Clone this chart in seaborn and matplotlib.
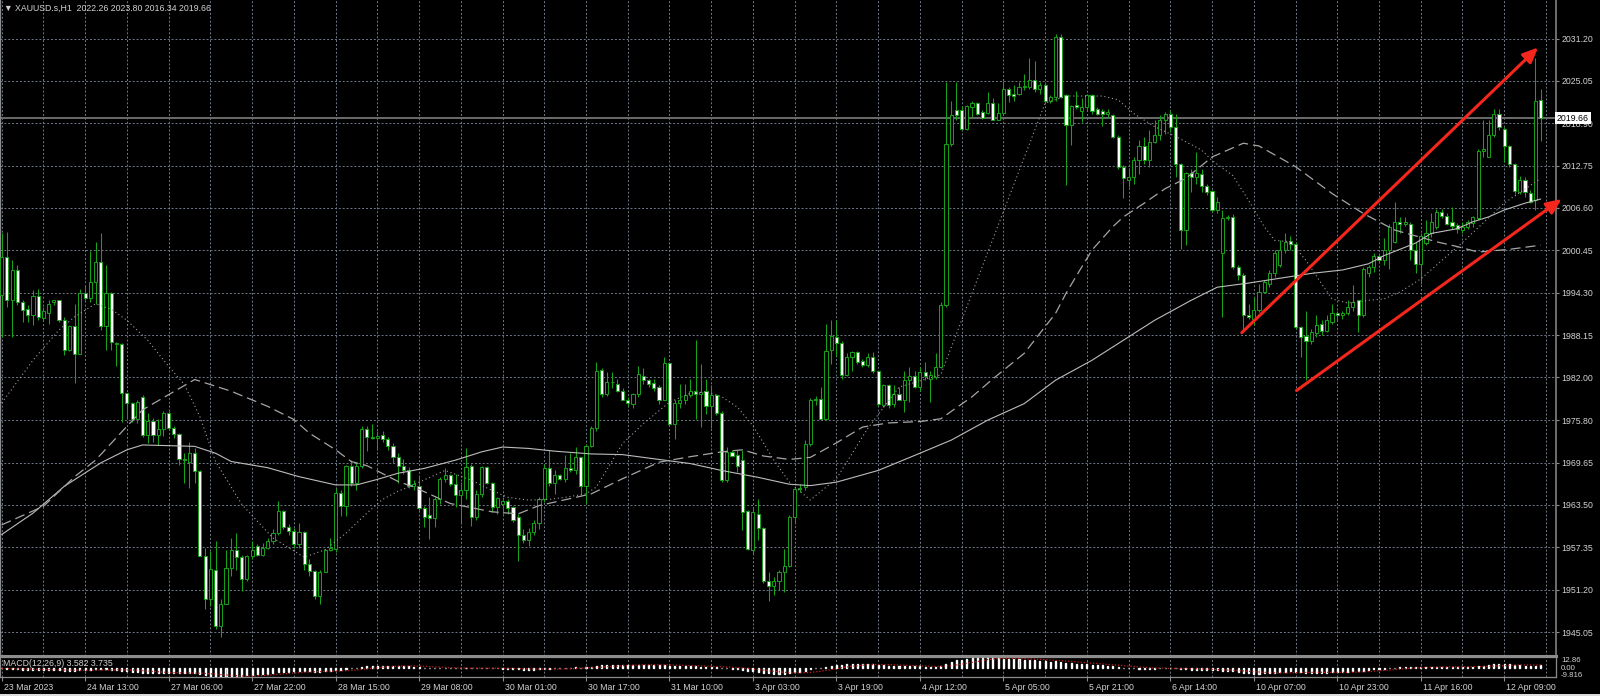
import numpy as np
import pandas as pd
import matplotlib
matplotlib.use("Agg")
import matplotlib.pyplot as plt
import matplotlib.transforms as mtransforms
from matplotlib.patches import Rectangle
import seaborn as sns

# XAUUSD H1 candles (bar index 0..295)
opens = [
    1994.0, 1999.5, 1993.2, 1997.6, 1993.0, 1991.9, 1991.0, 1993.8, 1990.7, 1991.4,
    1992.9, 1993.2, 1990.4, 1986.0, 1989.5, 1985.4, 1994.2, 1993.6, 1995.8, 1998.7,
    1989.5, 1994.3, 1986.9, 1986.9, 1979.7, 1978.3, 1975.9, 1979.1, 1973.7, 1975.7,
    1973.7, 1974.5, 1976.9, 1974.6, 1973.8, 1970.1, 1969.8, 1971.0, 1968.4, 1956.1,
    1949.8, 1954.0, 1945.9, 1949.1, 1954.4, 1957.0, 1956.0, 1952.7, 1956.1, 1957.5,
    1956.3, 1957.3, 1958.2, 1959.4, 1962.6, 1960.3, 1959.7, 1957.8, 1959.5, 1954.9,
    1953.9, 1950.3, 1953.8, 1957.0, 1957.1, 1965.3, 1963.4, 1969.1, 1966.7, 1969.1,
    1974.5, 1973.4, 1973.2, 1973.7, 1973.0, 1972.0, 1970.5, 1969.1, 1968.5, 1966.3,
    1966.2, 1963.0, 1962.0, 1961.6, 1964.3, 1967.3, 1967.8, 1966.6, 1964.9, 1965.7,
    1969.1, 1961.7, 1965.1, 1969.0, 1966.7, 1963.2, 1963.6, 1964.1, 1963.2, 1961.7,
    1959.1, 1958.4, 1959.5, 1960.9, 1964.4, 1968.8, 1966.7, 1967.9, 1967.3, 1968.8,
    1968.6, 1970.4, 1966.3, 1972.1, 1974.6, 1983.1, 1979.6, 1981.3, 1981.1, 1980.1,
    1978.8, 1978.2, 1979.6, 1982.2, 1981.6, 1981.2, 1980.6, 1978.8, 1984.1, 1975.2,
    1978.3, 1978.7, 1979.4, 1980.1, 1979.6, 1980.0, 1977.8, 1979.4, 1976.9, 1967.1,
    1971.2, 1970.8, 1970.0, 1962.6, 1957.0, 1962.2, 1960.2, 1952.5, 1951.7, 1952.5,
    1953.8, 1954.7, 1961.7, 1965.8, 1966.1, 1972.4, 1978.7, 1978.9, 1976.0, 1986.0,
    1987.9, 1987.0, 1982.3, 1985.0, 1985.7, 1984.4, 1983.8, 1985.0, 1983.0, 1978.0,
    1980.9, 1978.2, 1979.6, 1978.8, 1981.7, 1982.2, 1980.6, 1982.8, 1981.8, 1982.1,
    1983.5, 1992.5, 2015.9, 2020.8, 2020.8, 2018.1, 2021.2, 2021.9, 2020.6, 2020.4,
    2021.8, 2019.4, 2020.4, 2023.9, 2023.1, 2023.1, 2024.2, 2024.2, 2025.2, 2023.9,
    2024.4, 2022.2, 2022.7, 2031.4, 2023.0, 2018.6, 2021.5, 2020.7, 2021.2, 2023.0,
    2021.0, 2020.7, 2020.3, 2020.1, 2016.9, 2012.6, 2010.7, 2011.1, 2013.5, 2015.6,
    2013.5, 2016.2, 2017.2, 2019.4, 2020.2, 2018.4, 2013.0, 2003.4, 2011.7, 2011.1,
    2011.5, 2009.8, 2009.1, 2006.3, 2000.0, 2005.1, 2005.3, 1998.0, 1996.8, 1991.0,
    1990.5, 1991.8, 1994.4, 1995.6, 1997.1, 1998.3, 2000.5, 2001.8, 2001.4, 1989.3,
    1988.0, 1987.3, 1988.4, 1989.7, 1988.8, 1990.0, 1991.4, 1991.0, 1991.3, 1992.2,
    1993.2, 1991.0, 1997.1, 1998.0, 1999.6, 1999.1, 2000.5, 2001.6, 2004.6, 2004.3,
    2004.3, 2000.5, 1998.5, 2001.5, 2002.9, 2003.9, 2006.0, 2005.5, 2004.6, 2004.1,
    2003.4, 2003.9, 2004.4, 2005.1, 2014.9, 2014.0, 2017.2, 2020.3, 2018.1, 2015.6,
    2013.0, 2008.9, 2010.7, 2008.8, 2007.7, 2022.26,
]
highs = [
    2003.0, 2003.1, 1999.0, 1998.3, 1993.2, 1992.5, 1994.7, 1994.9, 1992.2, 1993.2,
    1993.3, 1993.3, 1990.8, 1989.6, 1992.7, 1994.9, 1995.4, 2000.4, 2001.7, 2002.9,
    1998.3, 1994.4, 1987.2, 1987.0, 1979.7, 1978.5, 1978.7, 1979.5, 1976.8, 1976.1,
    1975.9, 1977.1, 1977.1, 1974.9, 1973.9, 1971.0, 1972.7, 1971.7, 1968.6, 1957.3,
    1956.8, 1958.2, 1949.8, 1957.0, 1958.7, 1959.4, 1956.3, 1956.3, 1958.2, 1957.8,
    1958.0, 1958.7, 1960.0, 1964.0, 1962.8, 1960.7, 1960.2, 1960.9, 1959.7, 1955.6,
    1954.1, 1954.1, 1957.1, 1958.7, 1966.0, 1965.6, 1969.3, 1970.0, 1969.8, 1975.0,
    1974.9, 1975.3, 1974.2, 1974.2, 1973.4, 1972.5, 1971.0, 1970.2, 1969.0, 1967.1,
    1967.5, 1963.4, 1964.6, 1964.6, 1967.5, 1968.8, 1968.0, 1968.0, 1966.8, 1971.7,
    1969.5, 1965.6, 1969.2, 1969.1, 1966.8, 1964.7, 1964.6, 1964.4, 1963.4, 1962.2,
    1960.0, 1960.1, 1961.3, 1964.7, 1969.5, 1971.4, 1968.5, 1968.0, 1970.8, 1971.0,
    1971.9, 1970.4, 1972.3, 1975.0, 1984.2, 1983.3, 1982.8, 1982.8, 1981.8, 1980.4,
    1979.2, 1979.7, 1983.6, 1983.3, 1981.8, 1981.8, 1980.9, 1985.0, 1984.2, 1978.7,
    1981.1, 1981.1, 1981.8, 1987.5, 1984.0, 1981.8, 1980.9, 1979.6, 1977.2, 1971.9,
    1971.4, 1971.4, 1971.4, 1962.8, 1963.2, 1964.4, 1960.3, 1953.8, 1953.0, 1954.0,
    1957.1, 1962.0, 1966.1, 1966.5, 1972.9, 1979.0, 1979.3, 1980.6, 1989.8, 1990.3,
    1990.4, 1987.3, 1985.5, 1985.9, 1985.9, 1984.7, 1985.5, 1985.7, 1983.0, 1981.1,
    1981.1, 1980.9, 1980.6, 1983.0, 1983.5, 1983.0, 1983.5, 1984.2, 1983.0, 1985.5,
    1993.0, 2024.9, 2022.2, 2024.9, 2021.4, 2021.5, 2022.2, 2022.0, 2020.8, 2023.5,
    2022.5, 2021.8, 2025.1, 2024.2, 2024.4, 2024.9, 2026.1, 2028.3, 2028.0, 2024.9,
    2024.9, 2023.0, 2031.9, 2031.8, 2023.2, 2021.5, 2023.6, 2022.5, 2023.2, 2023.1,
    2021.2, 2021.0, 2021.0, 2020.2, 2017.2, 2012.8, 2012.3, 2014.0, 2016.4, 2016.9,
    2017.9, 2019.3, 2020.1, 2020.5, 2020.8, 2020.3, 2013.1, 2011.8, 2012.2, 2014.7,
    2012.3, 2010.1, 2009.2, 2008.2, 2006.3, 2005.6, 2005.7, 1998.3, 1997.1, 1992.7,
    1993.7, 1995.6, 1996.1, 1997.6, 2000.5, 2001.9, 2002.9, 2002.6, 2001.7, 1989.4,
    1991.7, 1989.1, 1991.0, 1990.3, 1991.0, 1992.7, 1991.7, 1991.7, 1993.2, 1995.4,
    1993.3, 1998.0, 1998.3, 2000.0, 2000.0, 2002.2, 2004.3, 2007.5, 2005.3, 2005.3,
    2004.6, 2001.7, 2002.9, 2004.8, 2005.9, 2006.4, 2006.5, 2005.8, 2006.8, 2004.4,
    2004.6, 2004.8, 2005.5, 2015.2, 2019.4, 2019.3, 2021.0, 2020.9, 2018.4, 2015.7,
    2013.1, 2011.2, 2011.1, 2009.2, 2028.3, 2023.80,
]
lows = [
    1987.9, 1992.2, 1987.9, 1992.5, 1990.1, 1990.1, 1989.6, 1990.3, 1990.3, 1989.8,
    1992.5, 1990.1, 1985.3, 1985.9, 1981.2, 1985.4, 1993.2, 1992.9, 1992.7, 1988.9,
    1986.0, 1986.0, 1983.6, 1975.6, 1975.9, 1975.6, 1975.4, 1973.4, 1972.5, 1972.7,
    1972.2, 1973.5, 1974.4, 1973.2, 1969.3, 1966.7, 1966.0, 1966.7, 1956.1, 1948.4,
    1948.8, 1945.5, 1944.3, 1949.1, 1953.2, 1954.1, 1951.0, 1952.5, 1955.6, 1956.1,
    1956.1, 1957.1, 1957.8, 1959.2, 1960.0, 1959.2, 1957.3, 1957.3, 1954.1, 1953.2,
    1949.8, 1949.1, 1953.7, 1956.8, 1956.6, 1961.9, 1961.9, 1966.2, 1965.7, 1968.9,
    1971.3, 1973.0, 1971.5, 1972.7, 1971.5, 1969.6, 1966.7, 1968.0, 1965.9, 1965.6,
    1962.7, 1960.3, 1958.6, 1960.3, 1963.7, 1966.8, 1966.3, 1963.2, 1960.8, 1964.4,
    1960.5, 1961.3, 1964.6, 1966.6, 1962.5, 1962.2, 1962.2, 1962.2, 1961.0, 1955.4,
    1957.9, 1957.6, 1959.1, 1960.0, 1963.9, 1966.3, 1965.1, 1967.1, 1966.8, 1968.3,
    1968.0, 1965.1, 1963.7, 1971.9, 1974.3, 1979.2, 1979.3, 1980.4, 1979.9, 1978.7,
    1977.8, 1977.5, 1979.2, 1981.1, 1980.6, 1980.1, 1978.2, 1978.7, 1975.1, 1973.1,
    1977.5, 1978.2, 1979.2, 1976.0, 1974.8, 1976.7, 1974.6, 1976.5, 1966.8, 1966.8,
    1970.5, 1968.3, 1959.8, 1956.9, 1956.4, 1958.4, 1952.1, 1949.6, 1950.4, 1951.1,
    1950.9, 1954.5, 1961.0, 1965.4, 1965.7, 1972.0, 1978.0, 1975.9, 1975.8, 1984.0,
    1985.0, 1981.8, 1982.2, 1983.0, 1984.0, 1983.5, 1983.5, 1982.6, 1977.8, 1977.7,
    1977.5, 1977.7, 1978.7, 1977.0, 1978.5, 1980.4, 1980.1, 1981.6, 1978.5, 1981.8,
    1983.3, 1992.2, 2015.6, 2019.3, 2017.9, 2017.9, 2019.8, 2020.1, 2019.5, 2020.2,
    2019.3, 2019.3, 2020.1, 2022.0, 2022.2, 2023.0, 2023.7, 2023.9, 2023.5, 2023.2,
    2021.8, 2021.8, 2022.2, 2022.5, 2009.9, 2015.7, 2021.0, 2019.1, 2020.7, 2020.3,
    2020.1, 2018.5, 2019.6, 2016.7, 2012.3, 2008.0, 2009.7, 2010.1, 2011.6, 2013.0,
    2012.6, 2016.0, 2016.5, 2017.4, 2017.6, 2011.1, 2000.7, 2001.2, 2008.9, 2010.1,
    2008.9, 2008.5, 2006.0, 2005.8, 1990.8, 2004.8, 1997.8, 1996.1, 1988.8, 1990.5,
    1989.6, 1991.5, 1994.2, 1995.1, 1996.6, 1998.1, 2000.0, 2000.5, 1989.1, 1985.0,
    1981.6, 1986.9, 1987.9, 1988.1, 1988.6, 1989.8, 1990.4, 1990.5, 1991.0, 1991.7,
    1988.6, 1990.8, 1996.6, 1997.3, 1998.8, 1998.3, 1997.8, 2001.5, 2002.9, 2004.0,
    1999.0, 1997.1, 1995.6, 2001.2, 2002.4, 2003.6, 2005.2, 2004.1, 2003.6, 2002.9,
    2002.9, 2003.6, 2003.9, 2004.8, 2014.0, 2014.0, 2016.9, 2017.9, 2013.3, 2012.6,
    2008.7, 2008.7, 2008.2, 2007.3, 2006.3, 2016.34,
]
closes = [
    1999.5, 1993.2, 1997.6, 1993.0, 1991.8, 1991.1, 1993.8, 1990.8, 1991.7, 1992.7,
    1993.2, 1990.4, 1986.0, 1989.5, 1985.4, 1994.3, 1993.6, 1995.8, 1998.7, 1989.4,
    1994.3, 1987.2, 1987.0, 1979.7, 1978.3, 1975.9, 1978.5, 1973.7, 1975.7, 1973.7,
    1974.5, 1976.9, 1974.6, 1973.8, 1970.1, 1970.0, 1971.0, 1968.4, 1956.1, 1949.8,
    1954.2, 1945.9, 1949.1, 1954.4, 1957.0, 1956.0, 1952.7, 1956.1, 1957.0, 1956.3,
    1957.3, 1958.2, 1959.4, 1962.6, 1960.3, 1959.7, 1957.8, 1959.5, 1954.9, 1953.9,
    1950.3, 1953.8, 1957.0, 1957.3, 1965.3, 1963.4, 1969.1, 1966.7, 1969.1, 1974.5,
    1973.4, 1973.2, 1973.5, 1973.0, 1972.0, 1970.5, 1969.1, 1968.5, 1966.3, 1966.6,
    1963.0, 1961.8, 1961.6, 1964.3, 1967.3, 1967.8, 1966.6, 1964.9, 1965.7, 1969.0,
    1961.7, 1965.1, 1969.0, 1966.7, 1963.2, 1964.5, 1964.1, 1963.1, 1961.3, 1959.1,
    1958.4, 1959.6, 1960.9, 1964.4, 1968.8, 1966.7, 1967.9, 1967.3, 1968.8, 1968.6,
    1970.4, 1966.3, 1972.1, 1974.6, 1983.0, 1979.6, 1981.3, 1981.4, 1980.1, 1978.8,
    1978.3, 1979.6, 1982.5, 1981.6, 1981.0, 1980.5, 1978.8, 1984.1, 1975.3, 1978.3,
    1978.7, 1979.4, 1980.1, 1979.6, 1979.9, 1977.8, 1979.4, 1976.8, 1967.1, 1971.2,
    1970.6, 1969.2, 1962.5, 1957.1, 1962.5, 1960.2, 1952.5, 1951.8, 1952.5, 1953.8,
    1954.7, 1961.7, 1965.8, 1966.0, 1972.4, 1978.7, 1978.9, 1976.0, 1985.9, 1988.0,
    1987.0, 1982.3, 1985.0, 1985.7, 1984.2, 1983.8, 1985.0, 1983.0, 1978.2, 1980.9,
    1978.0, 1979.6, 1978.8, 1981.7, 1982.2, 1980.6, 1982.8, 1982.2, 1982.3, 1983.5,
    1992.5, 2015.9, 2020.1, 2020.1, 2018.1, 2021.4, 2021.9, 2020.3, 2019.6, 2021.8,
    2019.4, 2020.4, 2023.9, 2023.0, 2022.8, 2024.2, 2024.3, 2025.2, 2023.9, 2024.4,
    2022.2, 2022.7, 2031.4, 2022.7, 2018.6, 2021.4, 2021.2, 2021.2, 2023.0, 2020.7,
    2020.3, 2020.2, 2020.6, 2016.9, 2012.6, 2010.9, 2011.1, 2013.5, 2015.6, 2013.5,
    2016.2, 2017.2, 2019.4, 2020.2, 2018.3, 2013.0, 2003.4, 2011.7, 2011.1, 2011.7,
    2009.8, 2008.9, 2006.3, 2007.5, 2005.1, 2005.3, 1998.0, 1996.8, 1991.0, 1990.8,
    1991.8, 1994.4, 1995.9, 1997.2, 2000.0, 2000.5, 2001.7, 2001.4, 1989.3, 1987.9,
    1987.3, 1988.6, 1989.6, 1988.8, 1990.3, 1991.4, 1991.0, 1991.3, 1992.2, 1993.0,
    1991.0, 1997.8, 1998.0, 1999.7, 1999.1, 2000.5, 2003.8, 2004.6, 2004.3, 2004.5,
    2000.5, 1998.5, 2002.6, 2002.9, 2004.6, 2006.0, 2005.5, 2004.3, 2004.0, 2003.5,
    2003.9, 2004.6, 2005.3, 2014.9, 2015.2, 2017.2, 2020.3, 2018.3, 2015.6, 2013.0,
    2009.1, 2010.7, 2008.9, 2007.5, 2022.2, 2019.66,
]

# moving averages as drawn on the chart (bar index, price)
dot_bars = [0, 6, 11, 14, 18, 21, 24, 28, 32, 35, 38, 41, 46, 52, 58, 62, 66, 70, 73, 76,
            78, 85, 90, 94, 97, 101, 105, 108, 112, 114, 119, 123, 128, 132, 135, 138, 141, 144, 148, 151,
            155, 160, 166, 172, 176, 180, 200, 204, 211, 214, 217, 221, 225, 230, 232, 236, 239, 242, 244, 247,
            250, 253, 255, 258, 262, 265, 268, 272, 280, 288, 295]
dot_vals = [1978.3, 1984.5, 1988.9, 1990.8, 1992.7, 1991.9, 1990.3, 1987.4, 1983.6, 1981.0,
            1976.3, 1969.8, 1963.6, 1958.7, 1955.9, 1957.0, 1959.4, 1962.3, 1964.3, 1965.5,
            1966.1, 1968.5, 1967.1, 1965.6, 1964.6, 1964.2, 1964.3, 1964.6, 1965.1, 1966.1,
            1972.4, 1975.3, 1978.4, 1979.7, 1979.9, 1979.2, 1977.7, 1975.0, 1970.0, 1966.8,
            1964.2, 1967.3, 1974.6, 1980.6, 1981.5, 1982.4, 2021.8, 2022.85, 2022.85, 2022.3,
            2020.3, 2018.4, 2017.0, 2015.0, 2013.5, 2011.3, 2007.7, 2003.9, 2001.9, 2001.7,
            1999.0, 1995.6, 1993.4, 1992.8, 1993.2, 1993.4, 1994.4, 1996.3, 2001.6, 2007.3,
            2010.9]
dash_bars = [0, 8, 14, 18, 24, 27, 32, 37, 44, 51, 56, 59, 64, 67, 70, 76, 79, 86, 94, 99,
             103, 113, 119, 126, 132, 138, 142, 146, 151, 155, 160, 165, 170, 176, 180, 186, 190, 196, 199, 202,
             204, 207, 209, 213, 215, 219, 223, 227, 232, 238, 241, 248, 255, 261, 267, 275, 279, 283, 289, 295]
dash_vals = [1960.6, 1963.3, 1967.6, 1970.0, 1974.9, 1977.3, 1979.5, 1981.7, 1980.0, 1977.8,
             1975.9, 1973.9, 1971.5, 1969.8, 1969.2, 1966.9, 1966.1, 1963.7, 1962.5, 1962.2,
             1963.4, 1965.1, 1967.3, 1969.7, 1970.5, 1971.2, 1971.5, 1970.6, 1970.1, 1970.4,
             1972.5, 1974.8, 1975.4, 1975.6, 1976.0, 1979.2, 1981.8, 1985.5, 1988.4, 1991.3,
             1994.2, 1998.0, 2000.5, 2003.9, 2005.3, 2007.3, 2009.4, 2010.9, 2014.0, 2016.0,
             2015.6, 2012.6, 2008.7, 2005.8, 2003.4, 2001.7, 2001.0, 2000.2, 2000.6, 2001.2]
solid_bars = [0, 6, 12, 19, 24, 27, 32, 37, 41, 44, 51, 57, 64, 68, 72, 76, 81, 87, 92, 96,
              101, 106, 113, 119, 126, 132, 138, 145, 151, 155, 160, 168, 176, 182, 189, 196, 202, 209, 215, 221,
              228, 233, 239, 245, 251, 257, 262, 265, 271, 274, 279, 282, 285, 288, 292, 295]
solid_vals = [1959.2, 1962.3, 1966.2, 1969.6, 1971.5, 1972.2, 1972.1, 1972.0, 1971.0, 1969.8,
              1968.9, 1967.6, 1966.4, 1966.4, 1967.2, 1968.1, 1968.8, 1970.0, 1971.2, 1971.9,
              1971.7, 1971.3, 1970.9, 1970.8, 1970.1, 1969.5, 1968.5, 1967.5, 1966.5, 1966.3,
              1966.8, 1968.5, 1971.0, 1972.9, 1975.8, 1978.2, 1981.6, 1984.5, 1987.4, 1990.3,
              1993.2, 1995.1, 1995.7, 1996.4, 1997.1, 1997.6, 1998.5, 1999.7, 2001.5, 2002.9,
              2003.6, 2004.6, 2005.3, 2006.3, 2007.3, 2007.9]

# hand-drawn trend arrows (bar index, price)
arrow_starts = [(237.7, 1988.5), (248.2, 1980.1)]
arrow_ends = [(294.5, 2029.9), (299.0, 2007.9)]

price_ticks = [2031.20, 2025.05, 2018.90, 2012.75, 2006.60, 2000.45, 1994.30, 1988.15,
               1982.00, 1975.80, 1969.65, 1963.50, 1957.35, 1951.20, 1945.05]
price_labels = ["2031.20", "2025.05", "2018.90", "2012.75", "2006.60", "2000.45", "1994.30",
                "1988.15", "1982.00", "1975.80", "1969.65", "1963.50", "1957.35", "1951.20", "1945.05"]
time_labels = ["23 Mar 2023", "24 Mar 13:00", "27 Mar 06:00", "27 Mar 22:00", "28 Mar 15:00",
               "29 Mar 08:00", "30 Mar 01:00", "30 Mar 17:00", "31 Mar 10:00", "3 Apr 03:00",
               "3 Apr 19:00", "4 Apr 12:00", "5 Apr 05:00", "5 Apr 21:00", "6 Apr 14:00",
               "10 Apr 07:00", "10 Apr 23:00", "11 Apr 16:00", "12 Apr 09:00"]
last_price = 2019.66

sns.set_theme(style="dark")
plt.rcParams["font.family"] = ["Liberation Sans", "DejaVu Sans"]

BG = "black"
FG = "#d2d2d2"
GRID = "#6f7a88"
FRAME = "#8c8c8c"
WICK = "#17a317"
W, H = 1600, 696

fig = plt.figure(figsize=(16, 6.96), dpi=100, facecolor=BG)
ax = fig.add_axes([0, (H - 655.5) / H, 1556 / W, 655.5 / H])
axm = fig.add_axes([0, 19 / H, 1556 / W, 20 / H])
x_lo, x_hi = -0.32, 297.93

candles = pd.DataFrame({"bar": np.arange(len(closes)), "open": opens,
                        "high": highs, "low": lows, "close": closes})
bull = candles["close"] >= candles["open"]
body_low = candles[["open", "close"]].min(axis=1)
body_h = (candles["close"] - candles["open"]).abs().clip(lower=0.06)

ax.set_facecolor(BG)
ax.vlines(candles["bar"], candles["low"], candles["high"], color=WICK, linewidth=0.75, zorder=3)
ax.bar(candles["bar"], body_h, bottom=body_low, width=0.6,
       color=np.where(bull, "black", "white"), edgecolor=WICK, linewidth=0.7, zorder=4)

ax.axhline(last_price, color="#6a6a6a", linewidth=1.4, zorder=1)

sns.lineplot(x=solid_bars, y=solid_vals, ax=ax, color="#bdbdbd", linewidth=0.8, zorder=5)
sns.lineplot(x=dash_bars, y=dash_vals, ax=ax, color="#a6a6a6", linewidth=0.9, zorder=5)
ax.get_lines()[-1].set_dashes([8, 4])
sns.lineplot(x=dot_bars, y=dot_vals, ax=ax, color="#a0a0a0", linewidth=0.8, zorder=5)
ax.get_lines()[-1].set_dashes([1, 2.5])

for start, end in zip(arrow_starts, arrow_ends):
    ax.annotate("", xy=end, xytext=start, annotation_clip=False,
                arrowprops=dict(arrowstyle="-|>,head_length=0.45,head_width=0.2",
                                color="#f5261b", lw=2.2, mutation_scale=20,
                                shrinkA=0, shrinkB=0), zorder=6)

ax.set_xlim(x_lo, x_hi)
ax.set_ylim(1941.64, 2036.79)
ax.set_xlabel("")
ax.set_ylabel("")
ax.set_xticks(np.arange(0, 297, 8))
ax.set_yticks(price_ticks)
ax.set_yticklabels(price_labels)
ax.yaxis.tick_right()
ax.grid(True, color=GRID, linestyle=(0, (2, 2)), linewidth=0.7)
ax.tick_params(axis="y", colors=FRAME, labelcolor=FG, length=2.5, width=0.8, pad=1.5,
               labelsize=6.3, right=True, left=False)
ax.tick_params(axis="x", length=0, labelbottom=False, bottom=False)
for side, lw in [("left", 1.0), ("right", 1.1), ("bottom", 2.2)]:
    ax.spines[side].set_visible(True)
    ax.spines[side].set_color(FRAME)
    ax.spines[side].set_linewidth(lw)
ax.spines["top"].set_visible(False)

# price label box on the right scale
ax.text(1.0006, last_price, f"{last_price:.2f}", transform=ax.get_yaxis_transform(),
        ha="left", va="center", fontsize=6.3, color="black", clip_on=False, zorder=10,
        bbox=dict(boxstyle="square,pad=0.18", facecolor="white", edgecolor="none"))

# MACD(12,26,9) panel, computed from the closes above
close_s = pd.Series(closes)
macd = close_s.ewm(span=12, adjust=False).mean() - close_s.ewm(span=26, adjust=False).mean()
signal = macd.rolling(9, min_periods=1).mean()

axm.set_facecolor(BG)
axm.bar(candles["bar"], macd, width=0.2, color="#9e9e9e", zorder=3)
sns.lineplot(x=candles["bar"], y=signal, ax=axm, color="#c81e1e", linewidth=0.9, zorder=4)
axm.get_lines()[-1].set_dashes([1, 1.5])
axm.set_xlim(x_lo, x_hi)
axm.set_ylim(-9.816, 12.86)
axm.set_xlabel("")
axm.set_ylabel("")
axm.set_yticks([])
axm.set_xticks(np.arange(0, 289, 16))
axm.set_xticklabels(time_labels)
axm.set_xticks(np.arange(8, 297, 16), minor=True)
axm.grid(True, which="both", axis="x", color=GRID, linestyle=(0, (2, 2)), linewidth=0.7)
axm.tick_params(axis="x", which="major", colors=FRAME, labelcolor=FG, length=3, width=0.8,
                pad=1.5, labelsize=6.3, bottom=True)
axm.tick_params(axis="x", which="minor", length=0, bottom=False)
for side in ["left", "right", "bottom", "top"]:
    axm.spines[side].set_visible(True)
    axm.spines[side].set_color(FRAME)
    axm.spines[side].set_linewidth(0.9)

shift = mtransforms.ScaledTranslation(2 / 100, 0, fig.dpi_scale_trans)
for lab in axm.get_xticklabels():
    lab.set_horizontalalignment("left")
    lab.set_transform(lab.get_transform() + shift)

# header and panel captions
fig.text(4 / W, 1 - 8 / H, "\u25bc XAUUSD.s,H1  2022.26 2023.80 2016.34 2019.66",
         ha="left", va="center", fontsize=6.3, color=FG)
fig.text(3 / W, 1 - 664 / H, "MACD(12,26,9) 3.582 3.735", ha="left", va="center",
         fontsize=6.3, color=FG)
fig.text(1561 / W, 1 - 660.5 / H, "12.86", ha="left", va="center", fontsize=5.6, color=FG)
fig.text(1561 / W, 1 - 668 / H, "0.00", ha="left", va="center", fontsize=5.6, color=FG)
fig.text(1561 / W, 1 - 675.5 / H, "-9.816", ha="left", va="center", fontsize=5.6, color=FG)

fig.patches.append(Rectangle((0, 0), 1, 2.5 / H, transform=fig.transFigure,
                             facecolor="#dcdcdc", edgecolor="none"))

fig.savefig("out.png", dpi=100, facecolor=BG)
